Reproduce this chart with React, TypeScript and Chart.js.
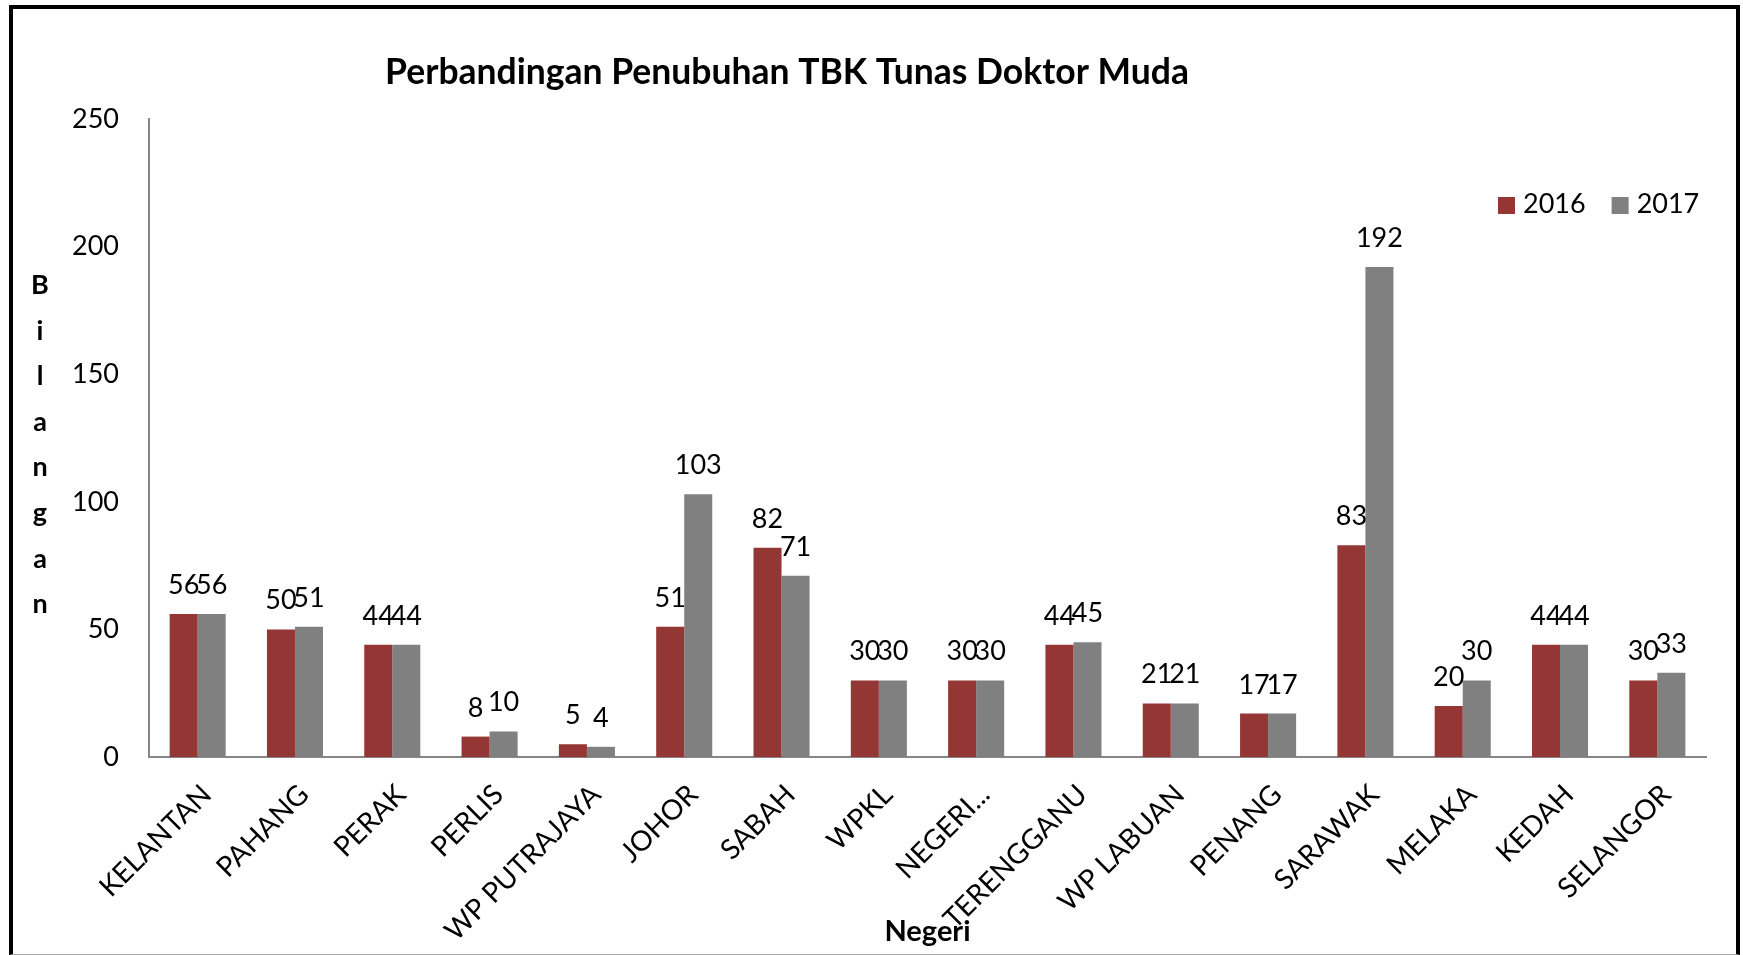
import React, { useEffect, useRef } from "react";
import { Chart, registerables } from "chart.js";

Chart.register(...registerables);

const categories = [
  "KELANTAN", "PAHANG", "PERAK", "PERLIS", "WP PUTRAJAYA", "JOHOR", "SABAH", "WPKL",
  "NEGERI...", "TERENGGANU", "WP LABUAN", "PENANG", "SARAWAK", "MELAKA", "KEDAH", "SELANGOR",
];
const values2016 = [56, 50, 44, 8, 5, 51, 82, 30, 30, 44, 21, 17, 83, 20, 44, 30];
const values2017 = [56, 51, 44, 10, 4, 103, 71, 30, 30, 45, 21, 17, 192, 30, 44, 33];
const seriesNames = ["2016", "2017"];
const seriesColors = ["#943634", "#808080"];
const yMin = 0;
const yMax = 250;
const yStep = 50;
const chartTitle = "Perbandingan Penubuhan TBK Tunas Doktor Muda";
const yTitle = "Bilangan";
const xTitle = "Negeri";

const FONT = "Lato";

const dataLabelPlugin = {
  id: "dataLabels",
  afterDatasetsDraw(chart: any) {
    const ctx = chart.ctx;
    ctx.save();
    ctx.font = `27px ${FONT}`;
    ctx.fillStyle = "#000";
    ctx.textAlign = "center";
    ctx.textBaseline = "alphabetic";
    chart.data.datasets.forEach((ds: any, i: number) => {
      const meta = chart.getDatasetMeta(i);
      meta.data.forEach((bar: any, j: number) => {
        ctx.fillText(String(ds.data[j]), bar.x, bar.y - 20);
      });
    });
    ctx.restore();
  },
};

const decorPlugin = {
  id: "decor",
  afterDraw(chart: any) {
    const ctx = chart.ctx;
    ctx.save();
    // Title
    ctx.font = `bold 35.5px ${FONT}`;
    ctx.fillStyle = "#000";
    ctx.textAlign = "center";
    ctx.textBaseline = "alphabetic";
    ctx.fillText(chartTitle, 787, 84);

    // Vertical stacked y title
    ctx.font = `bold 27px ${FONT}`;
    const letters = yTitle.split("");
    letters.forEach((ch, k) => {
      ctx.fillText(ch, 40, 294 + k * 45.6);
    });

    // Legend
    ctx.font = `27px ${FONT}`;
    ctx.textAlign = "left";
    let x = 1498;
    chart.data.datasets.forEach((ds: any) => {
      ctx.fillStyle = ds.backgroundColor;
      ctx.fillRect(x, 197, 17, 17);
      ctx.fillStyle = "#000";
      ctx.fillText(ds.label, x + 25, 213);
      x += 25 + ctx.measureText(ds.label).width + 26;
    });
    ctx.restore();
  },
};

export default function App() {
  const ref = useRef<HTMLCanvasElement | null>(null);

  useEffect(() => {
    if (!ref.current) return;
    const chart = new Chart(ref.current, {
      type: "bar",
      data: {
        labels: categories,
        datasets: [
          {
            label: seriesNames[0],
            data: values2016,
            backgroundColor: seriesColors[0],
            categoryPercentage: 0.576,
            barPercentage: 1,
          },
          {
            label: seriesNames[1],
            data: values2017,
            backgroundColor: seriesColors[1],
            categoryPercentage: 0.576,
            barPercentage: 1,
          },
        ],
      },
      options: {
        responsive: false,
        animation: false,
        layout: { padding: { left: 0, top: 119, right: 37, bottom: 0 } },
        plugins: {
          legend: { display: false },
          title: { display: false },
          tooltip: { enabled: false },
        },
        scales: {
          x: {
            grid: { display: false, drawTicks: false },
            border: { display: true, color: "#868686", width: 2 },
            ticks: {
              autoSkip: false,
              maxRotation: 45,
              minRotation: 45,
              font: { family: FONT, size: 28 },
              color: "#000",
              padding: 21,
              labelOffset: 9,
            },
            title: {
              display: true,
              text: xTitle,
              color: "#000",
              font: { family: FONT, size: 29, weight: "bold" },
              padding: { top: 0, bottom: 6 },
            },
            afterFit: (s: any) => {
              s.height = 198;
            },
          },
          y: {
            min: yMin,
            max: yMax,
            grid: { display: false, drawTicks: false },
            border: { display: true, color: "#868686", width: 2 },
            ticks: {
              stepSize: yStep,
              font: { family: FONT, size: 27 },
              color: "#000",
              padding: 30,
            },
            afterFit: (s: any) => {
              s.width = 149;
            },
          },
        },
      },
      plugins: [dataLabelPlugin, decorPlugin],
    } as any);
    return () => chart.destroy();
  }, []);

  return (
    <div style={{ position: "absolute", left: 0, top: 0, width: 1743, height: 955, background: "#fff" }}>
      <canvas
        ref={ref}
        width={1743}
        height={955}
        style={{ position: "absolute", left: 0, top: 0, width: 1743, height: 955, display: "block" }}
      />
      <div
        style={{
          position: "absolute",
          left: 9,
          top: 5,
          width: 1731,
          height: 950,
          boxSizing: "border-box",
          borderLeft: "4px solid #000",
          borderTop: "4px solid #000",
          borderRight: "4px solid #000",
          borderBottom: "1px solid #aaa",
          pointerEvents: "none",
        }}
      />
    </div>
  );
}
